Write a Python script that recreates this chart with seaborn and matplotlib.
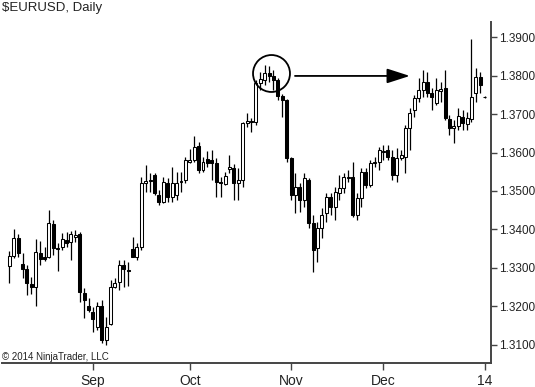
import numpy as np
import pandas as pd
import matplotlib
matplotlib.use("Agg")
import matplotlib.pyplot as plt
import seaborn as sns

# ---- data (EURUSD daily, Aug 2013 - Jan 2014) ----
opens = [1.3304, 1.3330, 1.3377, 1.3310, 1.3297, 1.3258, 1.3250, 1.3338, 1.3328, 1.3328,
         1.3414, 1.3351, 1.3354, 1.3372, 1.3367, 1.3380, 1.3388, 1.3234, 1.3200, 1.3185,
         1.3146, 1.3200, 1.3112, 1.3154, 1.3250, 1.3263, 1.3307, 1.3294, 1.3349, 1.3328,
         1.3354, 1.3520, 1.3525, 1.3541, 1.3489, 1.3471, 1.3520, 1.3484, 1.3489, 1.3523,
         1.3528, 1.3575, 1.3580, 1.3616, 1.3554, 1.3583, 1.3580, 1.3572, 1.3523, 1.3518,
         1.3557, 1.3559, 1.3520, 1.3528, 1.3676, 1.3681, 1.3679, 1.3780, 1.3788, 1.3806,
         1.3798, 1.3788, 1.3746, 1.3736, 1.3585, 1.3489, 1.3510, 1.3476, 1.3528, 1.3416,
         1.3351, 1.3403, 1.3442, 1.3484, 1.3458, 1.3494, 1.3507, 1.3533, 1.3536, 1.3437,
         1.3481, 1.3549, 1.3515, 1.3572, 1.3575, 1.3601, 1.3606, 1.3588, 1.3541, 1.3585,
         1.3588, 1.3663, 1.3710, 1.3741, 1.3762, 1.3783, 1.3754, 1.3728, 1.3759, 1.3767,
         1.3687, 1.3663, 1.3668, 1.3692, 1.3674, 1.3687, 1.3754, 1.3796, 1.3745]
highs = [1.3343, 1.3401, 1.3388, 1.3338, 1.3307, 1.3276, 1.3375, 1.3369, 1.3354, 1.3450,
         1.3424, 1.3364, 1.3390, 1.3393, 1.3395, 1.3398, 1.3393, 1.3247, 1.3221, 1.3198,
         1.3211, 1.3216, 1.3172, 1.3268, 1.3273, 1.3320, 1.3320, 1.3315, 1.3380, 1.3364,
         1.3536, 1.3567, 1.3546, 1.3546, 1.3502, 1.3536, 1.3533, 1.3562, 1.3549, 1.3549,
         1.3588, 1.3609, 1.3642, 1.3627, 1.3588, 1.3603, 1.3606, 1.3585, 1.3536, 1.3549,
         1.3593, 1.3570, 1.3559, 1.3679, 1.3702, 1.3689, 1.3788, 1.3809, 1.3827, 1.3824,
         1.3814, 1.3793, 1.3752, 1.3739, 1.3588, 1.3546, 1.3520, 1.3546, 1.3533, 1.3437,
         1.3419, 1.3455, 1.3494, 1.3494, 1.3510, 1.3541, 1.3546, 1.3554, 1.3575, 1.3494,
         1.3559, 1.3559, 1.3580, 1.3588, 1.3614, 1.3619, 1.3619, 1.3606, 1.3611, 1.3606,
         1.3671, 1.3715, 1.3749, 1.3793, 1.3814, 1.3809, 1.3767, 1.3793, 1.3783, 1.3814,
         1.3697, 1.3684, 1.3715, 1.3710, 1.3705, 1.3895, 1.3819, 1.3809, 1.3746]
lows = [1.3260, 1.3325, 1.3328, 1.3273, 1.3229, 1.3232, 1.3200, 1.3307, 1.3317, 1.3325,
        1.3333, 1.3291, 1.3346, 1.3354, 1.3320, 1.3367, 1.3211, 1.3169, 1.3185, 1.3133,
        1.3138, 1.3104, 1.3099, 1.3151, 1.3247, 1.3242, 1.3250, 1.3252, 1.3328, 1.3320,
        1.3346, 1.3497, 1.3497, 1.3489, 1.3463, 1.3468, 1.3471, 1.3471, 1.3476, 1.3497,
        1.3520, 1.3572, 1.3575, 1.3546, 1.3549, 1.3562, 1.3528, 1.3484, 1.3484, 1.3515,
        1.3546, 1.3476, 1.3476, 1.3510, 1.3666, 1.3653, 1.3671, 1.3762, 1.3775, 1.3783,
        1.3762, 1.3736, 1.3692, 1.3575, 1.3476, 1.3442, 1.3445, 1.3458, 1.3403, 1.3289,
        1.3315, 1.3377, 1.3419, 1.3437, 1.3424, 1.3476, 1.3494, 1.3523, 1.3432, 1.3424,
        1.3458, 1.3507, 1.3510, 1.3562, 1.3554, 1.3580, 1.3580, 1.3528, 1.3523, 1.3580,
        1.3546, 1.3606, 1.3692, 1.3731, 1.3744, 1.3744, 1.3710, 1.3723, 1.3731, 1.3684,
        1.3645, 1.3624, 1.3658, 1.3658, 1.3658, 1.3679, 1.3731, 1.3754, 1.3742]
closes = [1.3330, 1.3377, 1.3338, 1.3297, 1.3260, 1.3250, 1.3341, 1.3323, 1.3323, 1.3416,
          1.3351, 1.3349, 1.3375, 1.3364, 1.3388, 1.3385, 1.3237, 1.3216, 1.3190, 1.3167,
          1.3200, 1.3112, 1.3146, 1.3250, 1.3260, 1.3307, 1.3297, 1.3291, 1.3328, 1.3354,
          1.3520, 1.3525, 1.3528, 1.3494, 1.3471, 1.3523, 1.3484, 1.3520, 1.3520, 1.3525,
          1.3580, 1.3580, 1.3614, 1.3554, 1.3575, 1.3572, 1.3572, 1.3523, 1.3520, 1.3538,
          1.3562, 1.3520, 1.3528, 1.3676, 1.3681, 1.3679, 1.3780, 1.3791, 1.3806, 1.3798,
          1.3788, 1.3746, 1.3736, 1.3585, 1.3489, 1.3510, 1.3476, 1.3533, 1.3416, 1.3346,
          1.3403, 1.3437, 1.3484, 1.3458, 1.3497, 1.3507, 1.3536, 1.3536, 1.3437, 1.3481,
          1.3549, 1.3515, 1.3572, 1.3575, 1.3606, 1.3603, 1.3588, 1.3541, 1.3585, 1.3593,
          1.3663, 1.3702, 1.3741, 1.3762, 1.3783, 1.3754, 1.3744, 1.3762, 1.3765, 1.3689,
          1.3663, 1.3668, 1.3694, 1.3676, 1.3689, 1.3744, 1.3796, 1.3775, 1.3743]

month_bars = [19, 41, 64, 85, 108]
month_labels = ["Sep", "Oct", "Nov", "Dec", "14"]
price_ticks = [1.3100, 1.3200, 1.3300, 1.3400, 1.3500, 1.3600, 1.3700, 1.3800, 1.3900]

title = "$EURUSD, Daily"
copyright_text = "\u00a9 2014 NinjaTrader, LLC"

# ---- style ----
sns.set_theme(style="white")
plt.rcParams["font.family"] = ["Liberation Sans", "DejaVu Sans"]
plt.rcParams["text.parse_math"] = False

df = pd.DataFrame({"open": opens, "high": highs, "low": lows, "close": closes})
df["bar"] = np.arange(len(df))
df["up"] = df["close"] >= df["open"]

fig = plt.figure(figsize=(5.35, 3.87), dpi=100)
ax = fig.add_axes([0.0037, 0.062, 0.9141, 0.881])

# wicks
ax.vlines(df["bar"], df["low"], df["high"], color="black", lw=0.9, zorder=1)
# bodies
body_bottom = np.minimum(df["open"], df["close"])
body_height = np.maximum((df["close"] - df["open"]).abs(), 0.00008)
ax.bar(df["bar"], body_height, bottom=body_bottom, width=0.68,
       color=np.where(df["up"], "white", "black"), edgecolor="black",
       linewidth=0.75, zorder=2)

# annotation: circle around the top and arrow to the right
ax.plot([59.45], [1.38065], marker="o", ms=26.6, mfc="none", mec="black",
        mew=1.3, zorder=3)
ax.annotate("", xy=(91.0, 1.3799), xytext=(64.9, 1.3799),
            arrowprops=dict(arrowstyle="-|>,head_length=1.4,head_width=0.45",
                            color="black", lw=1.3, shrinkA=0, shrinkB=0,
                            mutation_scale=10), zorder=3)

ax.set_xlim(-1.68, 109.45)
ax.set_ylim(1.3053, 1.3939)

sns.despine(ax=ax, left=True, top=True, right=False, bottom=False)
for side in ("right", "bottom"):
    ax.spines[side].set_color("#444444")
    ax.spines[side].set_linewidth(1.4)

ax.yaxis.tick_right()
ax.set_yticks(price_ticks)
ax.set_yticklabels([f"{p:.4f}" for p in price_ticks])
ax.set_xticks(month_bars)
ax.set_xticklabels(month_labels)
ax.tick_params(axis="y", right=True, left=False, labelright=True, labelleft=False,
               direction="out", length=4, width=1.0, color="#444444",
               labelsize=8.5, pad=1.5, labelcolor="#222222")
ax.tick_params(axis="x", bottom=True, direction="out", length=5, width=1.0,
               color="#444444", labelsize=10, pad=3, labelcolor="#222222")
ax.grid(False)

fig.text(0.004, 0.996, title, ha="left", va="top", fontsize=9.5, color="#222222")
fig.text(0.004, 1 - 360 / 387, copyright_text, ha="left", va="baseline",
         fontsize=7, color="#222222")

fig.savefig("out.png", dpi=100)
